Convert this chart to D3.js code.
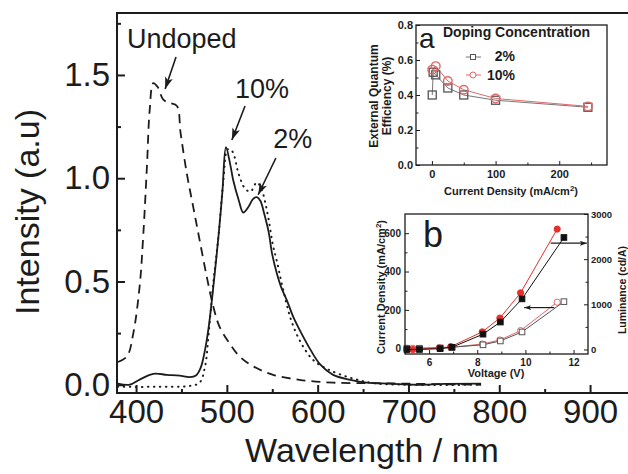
<!DOCTYPE html>
<html>
<head>
<meta charset="utf-8">
<script src="https://cdn.jsdelivr.net/npm/d3@7"></script>
<style>
body { margin: 0; background: #fff; }
svg { display: block; }
</style>
</head>
<body>
<div id="container"></div>
<script>
////////// DATA

// main spectra (wavelength nm, intensity a.u.)
var wl2 = [380, 393, 404, 419, 434, 448, 459, 466, 471, 476, 480, 485, 491, 495, 499, 504, 507, 513, 518, 524, 529, 533, 537, 541, 546, 550, 555, 560, 566, 573, 582, 592, 603, 617, 636, 654, 680, 710, 740, 780];
var int2 = [0.005, 0.0, 0.025, 0.053, 0.048, 0.044, 0.037, 0.045, 0.08, 0.17, 0.28, 0.47, 0.73, 0.93, 1.15, 1.06, 0.99, 0.895, 0.834, 0.863, 0.90, 0.908, 0.89, 0.83, 0.74, 0.63, 0.54, 0.47, 0.41, 0.33, 0.25, 0.17, 0.097, 0.048, 0.024, 0.01, 0.005, 0.0, 0.004, 0.005];
var wl10 = [380, 420, 460, 470, 476, 480, 485, 491, 496, 501, 506, 513, 520, 526, 533, 538, 542, 546, 551, 555, 562, 571, 582, 595, 612, 636, 661, 700, 780];
var int10 = [-0.01, -0.01, -0.005, 0.01, 0.09, 0.25, 0.49, 0.73, 0.98, 1.14, 1.13, 1.02, 0.95, 0.935, 0.98, 0.95, 0.887, 0.80, 0.67, 0.60, 0.46, 0.31, 0.20, 0.12, 0.073, 0.034, 0.008, 0.0, 0.0];
var wlUndoped = [380, 390, 397, 404, 408, 412, 415, 419, 424, 430, 437, 445, 449, 456, 463, 470, 478, 485, 492, 503, 514, 529, 551, 580, 617, 660, 700, 780];
var intUndoped = [0.11, 0.137, 0.25, 0.48, 0.73, 1.06, 1.33, 1.46, 1.44, 1.38, 1.365, 1.35, 1.22, 1.02, 0.86, 0.70, 0.52, 0.38, 0.28, 0.20, 0.137, 0.089, 0.048, 0.024, 0.01, 0.008, 0.005, 0.0];

var mainXTicks = [400, 500, 600, 700, 800, 900];
var mainYTicks = [0.0, 0.5, 1.0, 1.5];

// inset a: EQE vs current density
var eqeJ2 = [0.5, 2, 6, 25, 50, 100, 245];
var eqe2 = [0.40, 0.53, 0.515, 0.44, 0.40, 0.37, 0.33];
var eqeJ10 = [0.5, 6, 25, 50, 100, 245];
var eqe10 = [0.545, 0.565, 0.48, 0.43, 0.38, 0.335];
var insetAXTicks = [0, 100, 200];
var insetAYTicks = [0.0, 0.2, 0.4, 0.6, 0.8];

// inset b: J-V-L
var volt2 = [5.08, 5.6, 6.46, 6.95, 8.24, 8.96, 9.86, 11.6];
var lum2 = [0, 0, 18, 49, 339, 607, 1120, 2480];
var cur2 = [0, 0, 2, 5, 18, 38, 85, 243];
var volt10 = [5.08, 5.33, 6.43, 6.9, 8.21, 8.94, 9.8, 11.32];
var lum10 = [0, 0, 33, 62, 390, 696, 1254, 2666];
var cur10 = [0, 0, 1, 5, 22, 43, 92, 240];
var insetBXTicks = [6, 8, 10, 12];
var insetBYTicks = [0, 200, 400, 600];
var insetBY2Ticks = [0, 1000, 2000, 3000];

// annotations, in data coordinates
var labels = [
	{ text: "Undoped", wl: 390, v: 1.63 },
	{ text: "10%", wl: 509, v: 1.389 },
	{ text: "2%", wl: 551, v: 1.147 }
];
var arrows = [
	{ wl1: 444, v1: 1.587, wl2: 432, v2: 1.432 },
	{ wl1: 520, v1: 1.35, wl2: 505.5, v2: 1.185 },
	{ wl1: 554, v1: 1.098, wl2: 534.5, v2: 0.92 }
];

////////// DRAWING

var W = 628, H = 474;
var FONT = "'Liberation Sans', Arial, sans-serif";
var INK = "#1c1c1c";
var RED = "#e3302b";
var PINK = "#e06868";

var svg = d3.select("#container").append("svg")
	.attr("width", W).attr("height", H)
	.attr("font-family", FONT);
svg.append("rect").attr("width", W).attr("height", H).attr("fill", "#fff");

var defs = svg.append("defs");
function arrowMarker(id, len, wid)
{
	defs.append("marker")
		.attr("id", id)
		.attr("markerUnits", "userSpaceOnUse")
		.attr("viewBox", "0 0 " + len + " " + wid)
		.attr("refX", len).attr("refY", wid / 2)
		.attr("markerWidth", len).attr("markerHeight", wid)
		.attr("orient", "auto")
		.append("path")
		.attr("d", "M0,0L" + len + "," + (wid / 2) + "L0," + wid + "L" + (len * 0.25) + "," + (wid / 2) + "Z")
		.attr("fill", INK);
}
arrowMarker("arrBig", 12, 8);
arrowMarker("arrSmall", 7, 5);

// style ticks of a d3 axis group
function styleAxis(g, size, weight, width)
{
	g.select(".domain").remove();
	g.attr("font-family", FONT).attr("font-size", size).attr("font-weight", weight);
	g.selectAll("line").attr("stroke", INK).attr("stroke-width", width);
	g.selectAll("text").attr("fill", INK);
}

function frame(x0, y0, x1, y1, width)
{
	svg.append("rect")
		.attr("x", x0).attr("y", y0)
		.attr("width", x1 - x0).attr("height", y1 - y0)
		.attr("fill", "none").attr("stroke", INK).attr("stroke-width", width);
}

function zip(a, b) { return a.map(function(d, i) { return [d, b[i]]; }); }

////////// MAIN PLOT

var x = d3.scaleLinear().domain([379, 955]).range([117, 640]);
var y = d3.scaleLinear().domain([-0.04, 1.8]).range([393, 13]);

var spectrumLine = d3.line()
	.x(function(d) { return x(d[0]); })
	.y(function(d) { return y(d[1]); })
	.curve(d3.curveCatmullRom.alpha(0.5));

svg.append("path").datum(zip(wlUndoped, intUndoped))
	.attr("d", spectrumLine)
	.attr("fill", "none").attr("stroke", INK).attr("stroke-width", 1.8)
	.attr("stroke-dasharray", "9,6");
svg.append("path").datum(zip(wl10, int10))
	.attr("d", spectrumLine)
	.attr("fill", "none").attr("stroke", INK).attr("stroke-width", 2)
	.attr("stroke-linecap", "round")
	.attr("stroke-dasharray", "0.5,5.5");
svg.append("path").datum(zip(wl2, int2))
	.attr("d", spectrumLine)
	.attr("fill", "none").attr("stroke", INK).attr("stroke-width", 1.8);

// axes (ticks point inward)
var gx = svg.append("g").attr("transform", "translate(0,393)")
	.call(d3.axisBottom(x).tickValues(mainXTicks).tickSize(-8).tickPadding(7).tickFormat(d3.format("d")));
styleAxis(gx, 33, "normal", 2);
var gxm = svg.append("g").attr("transform", "translate(0,393)")
	.call(d3.axisBottom(x).tickValues([450, 550, 650, 750, 850]).tickSize(-4).tickFormat(""));
styleAxis(gxm, 33, "normal", 2);

var gy = svg.append("g").attr("transform", "translate(117,0)")
	.call(d3.axisLeft(y).tickValues(mainYTicks).tickSize(-8).tickPadding(7).tickFormat(d3.format(".1f")));
styleAxis(gy, 33, "normal", 2);
var gym = svg.append("g").attr("transform", "translate(117,0)")
	.call(d3.axisLeft(y).tickValues([0.25, 0.75, 1.25, 1.75]).tickSize(-4).tickFormat(""));
styleAxis(gym, 33, "normal", 2);

svg.append("path")
	.attr("d", "M640,13H117V393H640")
	.attr("fill", "none").attr("stroke", INK).attr("stroke-width", 2);

svg.append("text")
	.attr("x", 372).attr("y", 462)
	.attr("text-anchor", "middle").attr("font-size", 34).attr("fill", INK)
	.text("Wavelength / nm");
svg.append("text")
	.attr("transform", "translate(39,212) rotate(-90)")
	.attr("text-anchor", "middle").attr("font-size", 34).attr("fill", INK)
	.text("Intensity (a.u)");

// annotations
svg.selectAll(".anno").data(labels).enter().append("text")
	.attr("class", "anno")
	.attr("x", function(d) { return x(d.wl); })
	.attr("y", function(d) { return y(d.v); })
	.attr("font-size", 27).attr("fill", INK)
	.text(function(d) { return d.text; });
svg.selectAll(".annoArrow").data(arrows).enter().append("line")
	.attr("class", "annoArrow")
	.attr("x1", function(d) { return x(d.wl1); })
	.attr("y1", function(d) { return y(d.v1); })
	.attr("x2", function(d) { return x(d.wl2); })
	.attr("y2", function(d) { return y(d.v2); })
	.attr("stroke", INK).attr("stroke-width", 1.6)
	.attr("marker-end", "url(#arrBig)");

////////// INSET A (EQE)

var ax = d3.scaleLinear().domain([-25, 275]).range([416, 607]);
var ay = d3.scaleLinear().domain([0, 0.8]).range([165, 25]);
var insetLine = function(sx, sy)
{
	return d3.line().x(function(d) { return sx(d[0]); }).y(function(d) { return sy(d[1]); });
};

svg.append("rect").attr("x", 416).attr("y", 25).attr("width", 191).attr("height", 140).attr("fill", "#fff");

svg.append("path").datum(zip(eqeJ2, eqe2))
	.attr("d", insetLine(ax, ay))
	.attr("fill", "none").attr("stroke", "#777").attr("stroke-width", 1);
svg.append("path").datum(zip(eqeJ10, eqe10))
	.attr("d", insetLine(ax, ay))
	.attr("fill", "none").attr("stroke", PINK).attr("stroke-width", 1);
svg.selectAll(".eqe2").data(zip(eqeJ2, eqe2)).enter().append("rect")
	.attr("class", "eqe2")
	.attr("x", function(d) { return ax(d[0]) - 4; })
	.attr("y", function(d) { return ay(d[1]) - 4; })
	.attr("width", 8).attr("height", 8)
	.attr("fill", "none").attr("stroke", "#555").attr("stroke-width", 1.3);
svg.selectAll(".eqe10").data(zip(eqeJ10, eqe10)).enter().append("circle")
	.attr("class", "eqe10")
	.attr("cx", function(d) { return ax(d[0]); })
	.attr("cy", function(d) { return ay(d[1]); })
	.attr("r", 4.3)
	.attr("fill", "none").attr("stroke", PINK).attr("stroke-width", 1.4);

var gax = svg.append("g").attr("transform", "translate(0,165)")
	.call(d3.axisBottom(ax).tickValues(insetAXTicks).tickSize(-4).tickPadding(5));
styleAxis(gax, 11, "bold", 1);
var gaxm = svg.append("g").attr("transform", "translate(0,165)")
	.call(d3.axisBottom(ax).tickValues([50, 150, 250]).tickSize(-2.5).tickFormat(""));
styleAxis(gaxm, 11, "bold", 1);
var gay = svg.append("g").attr("transform", "translate(416,0)")
	.call(d3.axisLeft(ay).tickValues(insetAYTicks).tickSize(-4).tickPadding(3).tickFormat(d3.format(".1f")));
styleAxis(gay, 11, "bold", 1);
var gaym = svg.append("g").attr("transform", "translate(416,0)")
	.call(d3.axisLeft(ay).tickValues([0.1, 0.3, 0.5, 0.7]).tickSize(-2.5).tickFormat(""));
styleAxis(gaym, 11, "bold", 1);
frame(416, 25, 607, 165, 1.3);

var aTitle = svg.append("text")
	.attr("x", 511).attr("y", 195)
	.attr("text-anchor", "middle").attr("font-size", 11).attr("font-weight", "bold").attr("fill", INK);
aTitle.append("tspan").text("Current Density (mA/cm");
aTitle.append("tspan").attr("dy", -4).attr("font-size", 8).text("2");
aTitle.append("tspan").attr("dy", 4).text(")");

svg.append("text")
	.attr("transform", "translate(377.5,96) rotate(-90)")
	.attr("text-anchor", "middle").attr("font-size", 12).attr("font-weight", "bold").attr("fill", INK)
	.text("External Quantum");
svg.append("text")
	.attr("transform", "translate(390.5,96) rotate(-90)")
	.attr("text-anchor", "middle").attr("font-size", 12).attr("font-weight", "bold").attr("fill", INK)
	.text("Efficiency (%)");

// legend
svg.append("text").attr("x", 419).attr("y", 48).attr("font-size", 28).attr("fill", INK).text("a");
svg.append("text").attr("x", 443).attr("y", 37)
	.attr("font-size", 14).attr("font-weight", "bold").attr("fill", INK).text("Doping Concentration");
svg.append("line").attr("x1", 466).attr("x2", 481).attr("y1", 57).attr("y2", 57).attr("stroke", "#777").attr("stroke-width", 1);
svg.append("rect").attr("x", 470.5).attr("y", 54.5).attr("width", 5).attr("height", 5)
	.attr("fill", "#fff").attr("stroke", "#555").attr("stroke-width", 1);
svg.append("line").attr("x1", 466).attr("x2", 481).attr("y1", 75).attr("y2", 75).attr("stroke", PINK).attr("stroke-width", 1);
svg.append("circle").attr("cx", 473).attr("cy", 75).attr("r", 3)
	.attr("fill", "#fff").attr("stroke", PINK).attr("stroke-width", 1);
svg.append("text").attr("x", 515).attr("y", 61).attr("text-anchor", "end")
	.attr("font-size", 14).attr("font-weight", "bold").attr("fill", INK).text("2%");
svg.append("text").attr("x", 515).attr("y", 80).attr("text-anchor", "end")
	.attr("font-size", 14).attr("font-weight", "bold").attr("fill", INK).text("10%");

////////// INSET B (J-V-L)

var bx = d3.scaleLinear().domain([5, 12.6]).range([405, 588]);
var by = d3.scaleLinear().domain([-30, 700]).range([354, 214]);
var by2 = d3.scaleLinear().domain([-100, 3000]).range([354, 214]);

svg.append("rect").attr("x", 405).attr("y", 214).attr("width", 183).attr("height", 140).attr("fill", "#fff");

function jvlSeries(xs, ys, sy, color, shape, filled)
{
	var pts = zip(xs, ys);
	svg.append("path").datum(pts)
		.attr("d", insetLine(bx, sy))
		.attr("fill", "none").attr("stroke", color).attr("stroke-width", 1);
	var fill = filled ? color : "#fff";
	if (shape == "square")
	{
		svg.selectAll(null).data(pts).enter().append("rect")
			.attr("x", function(d) { return bx(d[0]) - 2.8; })
			.attr("y", function(d) { return sy(d[1]) - 2.8; })
			.attr("width", 5.6).attr("height", 5.6)
			.attr("fill", fill).attr("stroke", color).attr("stroke-width", 1);
	}
	else
	{
		svg.selectAll(null).data(pts).enter().append("circle")
			.attr("cx", function(d) { return bx(d[0]); })
			.attr("cy", function(d) { return sy(d[1]); })
			.attr("r", 3.1)
			.attr("fill", fill).attr("stroke", color).attr("stroke-width", 1);
	}
}
jvlSeries(volt10, cur10, by, PINK, "circle", false);
jvlSeries(volt2, cur2, by, "#555", "square", false);
jvlSeries(volt10, lum10, by2, RED, "circle", true);
jvlSeries(volt2, lum2, by2, "#111", "square", true);

var gbx = svg.append("g").attr("transform", "translate(0,354)")
	.call(d3.axisBottom(bx).tickValues(insetBXTicks).tickSize(-4).tickPadding(5));
styleAxis(gbx, 10, "bold", 1);
var gbxm = svg.append("g").attr("transform", "translate(0,354)")
	.call(d3.axisBottom(bx).tickValues([5, 7, 9, 11]).tickSize(-2.5).tickFormat(""));
styleAxis(gbxm, 10, "bold", 1);
var gby = svg.append("g").attr("transform", "translate(405,0)")
	.call(d3.axisLeft(by).tickValues(insetBYTicks).tickSize(-4).tickPadding(4).tickFormat(d3.format("d")));
styleAxis(gby, 10, "bold", 1);
var gbym = svg.append("g").attr("transform", "translate(405,0)")
	.call(d3.axisLeft(by).tickValues([100, 300, 500]).tickSize(-2.5).tickFormat(""));
styleAxis(gbym, 10, "bold", 1);
var gby2 = svg.append("g").attr("transform", "translate(588,0)")
	.call(d3.axisRight(by2).tickValues(insetBY2Ticks).tickSize(-4).tickPadding(3).tickFormat(d3.format("d")));
styleAxis(gby2, 9.5, "bold", 1);
var gby2m = svg.append("g").attr("transform", "translate(588,0)")
	.call(d3.axisRight(by2).tickValues([500, 1500, 2500]).tickSize(-2.5).tickFormat(""));
styleAxis(gby2m, 9.5, "bold", 1);
frame(405, 214, 588, 354, 1.3);

svg.append("text").attr("x", 423).attr("y", 247).attr("font-size", 36).attr("fill", INK).text("b");

svg.append("line")
	.attr("x1", bx(11.05)).attr("y1", by2(2353)).attr("x2", bx(12.55)).attr("y2", by2(2353))
	.attr("stroke", INK).attr("stroke-width", 1.2).attr("marker-end", "url(#arrSmall)");
svg.append("line")
	.attr("x1", bx(11.2)).attr("y1", by(212)).attr("x2", bx(9.95)).attr("y2", by(212))
	.attr("stroke", INK).attr("stroke-width", 1.2).attr("marker-end", "url(#arrSmall)");

svg.append("text")
	.attr("x", 496).attr("y", 377)
	.attr("text-anchor", "middle").attr("font-size", 11).attr("font-weight", "bold").attr("fill", INK)
	.text("Voltage (V)");
var bTitle = svg.append("text")
	.attr("transform", "translate(385,287) rotate(-90)")
	.attr("text-anchor", "middle").attr("font-size", 11).attr("font-weight", "bold").attr("fill", INK);
bTitle.append("tspan").text("Current Density (mA/cm");
bTitle.append("tspan").attr("dy", -4).attr("font-size", 8).text("2");
bTitle.append("tspan").attr("dy", 4).text(")");
svg.append("text")
	.attr("transform", "translate(626,290) rotate(-90)")
	.attr("text-anchor", "middle").attr("font-size", 10.5).attr("font-weight", "bold").attr("fill", INK)
	.text("Luminance (cd/A)");
</script>
</body>
</html>
